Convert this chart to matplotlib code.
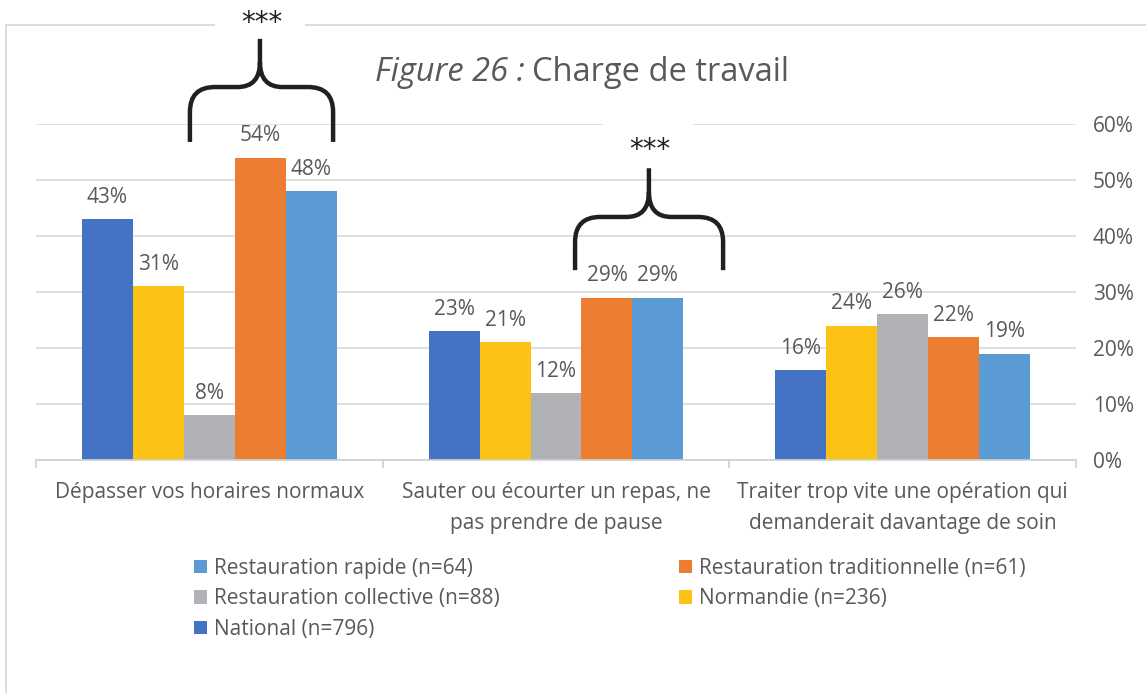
import matplotlib.pyplot as plt
import matplotlib.patches as patches
from matplotlib.path import Path
from matplotlib.ticker import PercentFormatter

plt.rcParams['font.family'] = ['Open Sans', 'DejaVu Sans']

# Données
categories = ["Dépasser vos horaires normaux",
              "Sauter ou écourter un repas, ne\npas prendre de pause",
              "Traiter trop vite une opération qui\ndemanderait davantage de soin"]
series = ["National (n=796)", "Normandie (n=236)", "Restauration collective (n=88)",
          "Restauration traditionnelle (n=61)", "Restauration rapide (n=64)"]
national = [0.43, 0.23, 0.16]
normandie = [0.31, 0.21, 0.24]
collective = [0.08, 0.12, 0.26]
traditionnelle = [0.54, 0.29, 0.22]
rapide = [0.48, 0.29, 0.19]
valeurs = [national, normandie, collective, traditionnelle, rapide]
couleurs = ['#4472C4', '#FBC115', '#B1B2B5', '#ED7D31', '#5B9BD5']
y_ticks = [0, 0.1, 0.2, 0.3, 0.4, 0.5, 0.6]

texte = '#595959'
fs = 15
W, H = 1146, 693

fig = plt.figure(figsize=(W / 100, H / 100), dpi=100)
ax = fig.add_axes([36 / W, 1 - 460 / H, 1040 / W, 336 / H])
ax.set_facecolor('none')

# Cadre gris du graphique
fig.patches.append(patches.Rectangle((6 / W, -0.1), 2, 1.1 - 25 / H, transform=fig.transFigure,
                                     fill=False, edgecolor='#d9d9d9', linewidth=1.3, zorder=-1))

# Barres
largeur = 0.147
for i, (nom, vals, coul) in enumerate(zip(series, valeurs, couleurs)):
    xs = [g + (i - 2) * largeur for g in range(len(categories))]
    bars = ax.bar(xs, vals, largeur, color=coul, label=nom, zorder=2)
    for b, v in zip(bars, vals):
        ax.annotate(f'{round(v * 100)}%', (b.get_x() + b.get_width() / 2, v),
                    xytext=(0, 8), textcoords='offset points', ha='center', va='bottom',
                    fontsize=fs, color=texte, zorder=3)

ax.set_xlim(-0.5, 2.5)
ax.set_ylim(0, 0.6)
ax.set_yticks(y_ticks)
ax.yaxis.set_major_formatter(PercentFormatter(1.0, decimals=0))
ax.yaxis.tick_right()
ax.tick_params(axis='y', length=0, pad=12, labelsize=fs, labelcolor=texte)
ax.grid(axis='y', color='#d9d9d9', linewidth=1.2, zorder=0)
for s in ['top', 'left', 'right']:
    ax.spines[s].set_visible(False)
ax.spines['bottom'].set_color('#d0d0d0')
ax.spines['bottom'].set_linewidth(1.2)

ax.set_xticks([-0.5, 0.5, 1.5, 2.5])
ax.set_xticklabels([])
ax.tick_params(axis='x', which='major', length=6, color='#d0d0d0', width=1.2)
ax.set_xticks(range(len(categories)), minor=True)
ax.set_xticklabels(categories, minor=True, fontsize=fs, color=texte, linespacing=1.6)
ax.tick_params(axis='x', which='minor', length=0, pad=16)

# Accolades de significativité
dx, dy = 25 / 346.67, 25 / 560
def accolade(x0, x1, xm, yb, yh, yt):
    verts = [(x0, yb), (x0, yh - dy), (x0, yh), (x0 + dx, yh), (xm - dx * 0.9, yh),
             (xm, yh), (xm, yh + dy), (xm, yt),
             (xm, yh + dy), (xm, yh), (xm + dx * 0.9, yh), (x1 - dx, yh),
             (x1, yh), (x1, yh - dy), (x1, yb)]
    codes = [Path.MOVETO, Path.LINETO, Path.CURVE3, Path.CURVE3, Path.LINETO,
             Path.CURVE3, Path.CURVE3, Path.LINETO,
             Path.MOVETO, Path.CURVE3, Path.CURVE3, Path.LINETO,
             Path.CURVE3, Path.CURVE3, Path.LINETO]
    ax.add_patch(patches.PathPatch(Path(verts, codes), fill=False, edgecolor='#231f20',
                                   linewidth=3.2, capstyle='butt', clip_on=False, zorder=5))

# fond blanc derrière les ***
ax.add_patch(patches.Rectangle((0.016, 0.752), 0.26, 0.08, facecolor='white', edgecolor='none',
                               clip_on=False, zorder=4))
ax.add_patch(patches.Rectangle((1.136, 0.52), 0.26, 0.085, facecolor='white', edgecolor='none',
                               clip_on=False, zorder=4))
accolade(-0.056, 0.357, 0.146, 0.568, 0.666, 0.752)
accolade(1.055, 1.482, 1.268, 0.339, 0.434, 0.521)
etoiles = dict(ha='center', va='center', fontsize=20, color='#231f20', zorder=6, clip_on=False,
               family='DejaVu Sans')
ax.text(0.152, 0.781, '***', **etoiles)
ax.text(1.27, 0.553, '***', **etoiles)

# Titre
t1 = fig.text(375 / W, 1 - 81 / H, 'Figure 26 :', fontsize=23.5, style='italic', color=texte, va='baseline')
fig.canvas.draw()
bb = t1.get_window_extent()
fig.text(bb.x1 / W + 7 / W, 1 - 81 / H, 'Charge de travail', fontsize=23.5, color=texte, va='baseline')

# Légende en deux colonnes
handles, labels = ax.get_legend_handles_labels()
opts = dict(loc='upper left', frameon=False, fontsize=fs, labelcolor=texte, borderpad=0,
            borderaxespad=0, handlelength=0.62, handleheight=0.62, handletextpad=0.33,
            labelspacing=0.45)
col1 = [4, 2, 0]
col2 = [3, 1]
fig.legend([handles[i] for i in col1], [labels[i] for i in col1],
           bbox_to_anchor=(194 / W, 1 - 558 / H), **opts)
fig.legend([handles[i] for i in col2], [labels[i] for i in col2],
           bbox_to_anchor=(679 / W, 1 - 558 / H), **opts)

fig.savefig('out.png', dpi=100)
